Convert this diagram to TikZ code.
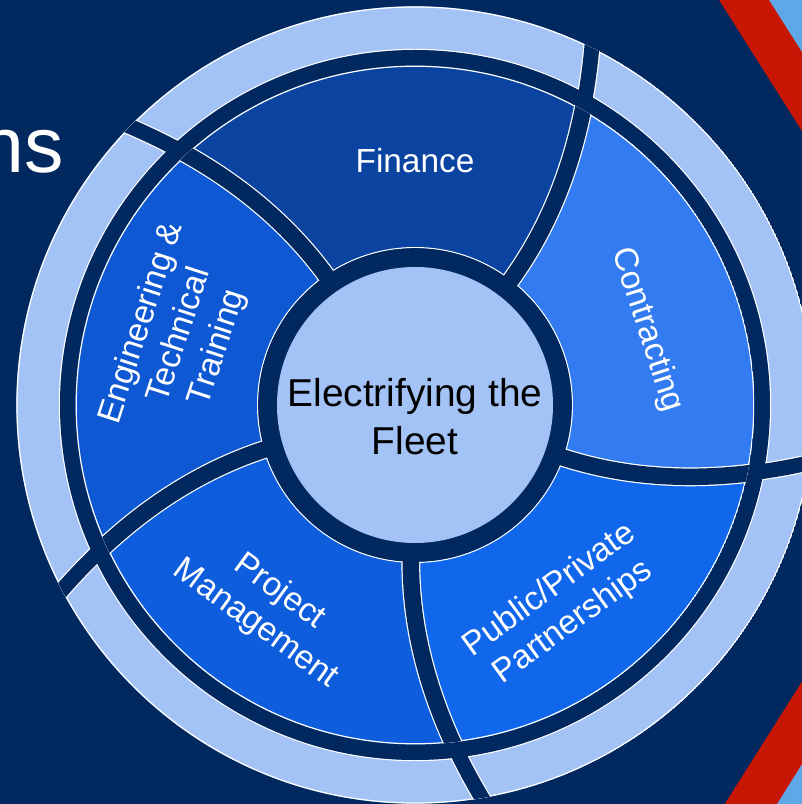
\documentclass[tikz,border=0pt]{standalone}
\usepackage{fontspec}
\setmainfont{Liberation Sans}
\definecolor{navy}{HTML}{02295F}
\definecolor{pale}{HTML}{A3C2F6}
\definecolor{finance}{HTML}{0A44A0}
\definecolor{contract}{HTML}{337BF0}
\definecolor{partner}{HTML}{1067EC}
\definecolor{project}{HTML}{0E5DDC}
\definecolor{engineer}{HTML}{0E58D3}
\definecolor{stripe}{HTML}{C81605}
\definecolor{sky}{HTML}{5EA8E8}
\newcommand\gapcurve{(145,0) .. controls (230.3,0) and (315.7,28.1) .. (401,84.4)}
\tikzset{
  seglabel/.style={text=white, font=\fontsize{33.5}{40}\selectfont, align=center, inner sep=0pt},
  rim/.style={draw=white, line width=1.2bp},
  gap/.style={draw=white, line width=1.2bp, double=navy, double distance=#1}
}
\begin{document}
\begin{tikzpicture}[x=1bp, y=1bp]
\clip (-415,-399) rectangle (387,405);
\fill[navy] (-415,-399) rectangle (387,405);
\fill[stripe] (244,500) -- (561,-1) -- (246,-500) -- (700,-500) -- (700,500) -- cycle;
\fill[sky] (294,500) -- (611,-1) -- (299,-500) -- (700,-500) -- (700,500) -- cycle;
\node[anchor=base east, inner sep=0pt, text=white, font=\fontsize{79}{90}\selectfont] (title) at (-351,232) {ns};
\begin{scope}
  \clip (0,0) circle[radius=398.7];
  \fill[pale] (0,0) circle[radius=398.7];
  \draw[rim] (0,0) circle[radius=398] (0,0) circle[radius=355.6];
  \foreach \a in {52.4,124.4,196.4,268.4,340.4}
    \draw[rotate=\a, gap=15bp] \gapcurve;
\end{scope}
\fill[navy] (0,0) circle[radius=355];
\begin{scope}
  \clip (0,0) circle[radius=339.4];
  \foreach \a/\c in {52.4/finance,124.4/engineer,196.4/project,268.4/partner,340.4/contract}
    \fill[\c, rotate=\a] (0,0) -- \gapcurve arc[start angle=11.89, end angle=83.89, radius=409.8]
      .. controls (77.09:316.9) and (72:230.3) .. (72:145) -- cycle;
  \draw[rim] (0,0) circle[radius=338.8] (0,0) circle[radius=157.4];
  \foreach \a in {52.4,124.4,196.4,268.4,340.4}
    \draw[rotate=\a, gap=16.5bp] \gapcurve;
\end{scope}
\fill[navy] (0,0) circle[radius=156.8];
\node[circle, fill=pale, minimum size=276bp] (hub) at (0,0) {};
\node[align=center, font=\fontsize{39}{48}\selectfont] (hubtext) at (0,-11.7) {Electrifying the\\Fleet};
\node[seglabel] (finance) at (90:244) {Finance};
\node[seglabel, rotate=-72] (contracting) at (18:244) {Contracting};
\node[seglabel, rotate=36] (partners) at (-54:249) {Public/Private\\Partnerships};
\node[seglabel, rotate=-36] (projects) at (-126:251) {Project\\Management};
\node[seglabel, rotate=72] (engineering) at (163.5:245) {Engineering \&\\Technical\\Training};
\end{tikzpicture}
\end{document}
